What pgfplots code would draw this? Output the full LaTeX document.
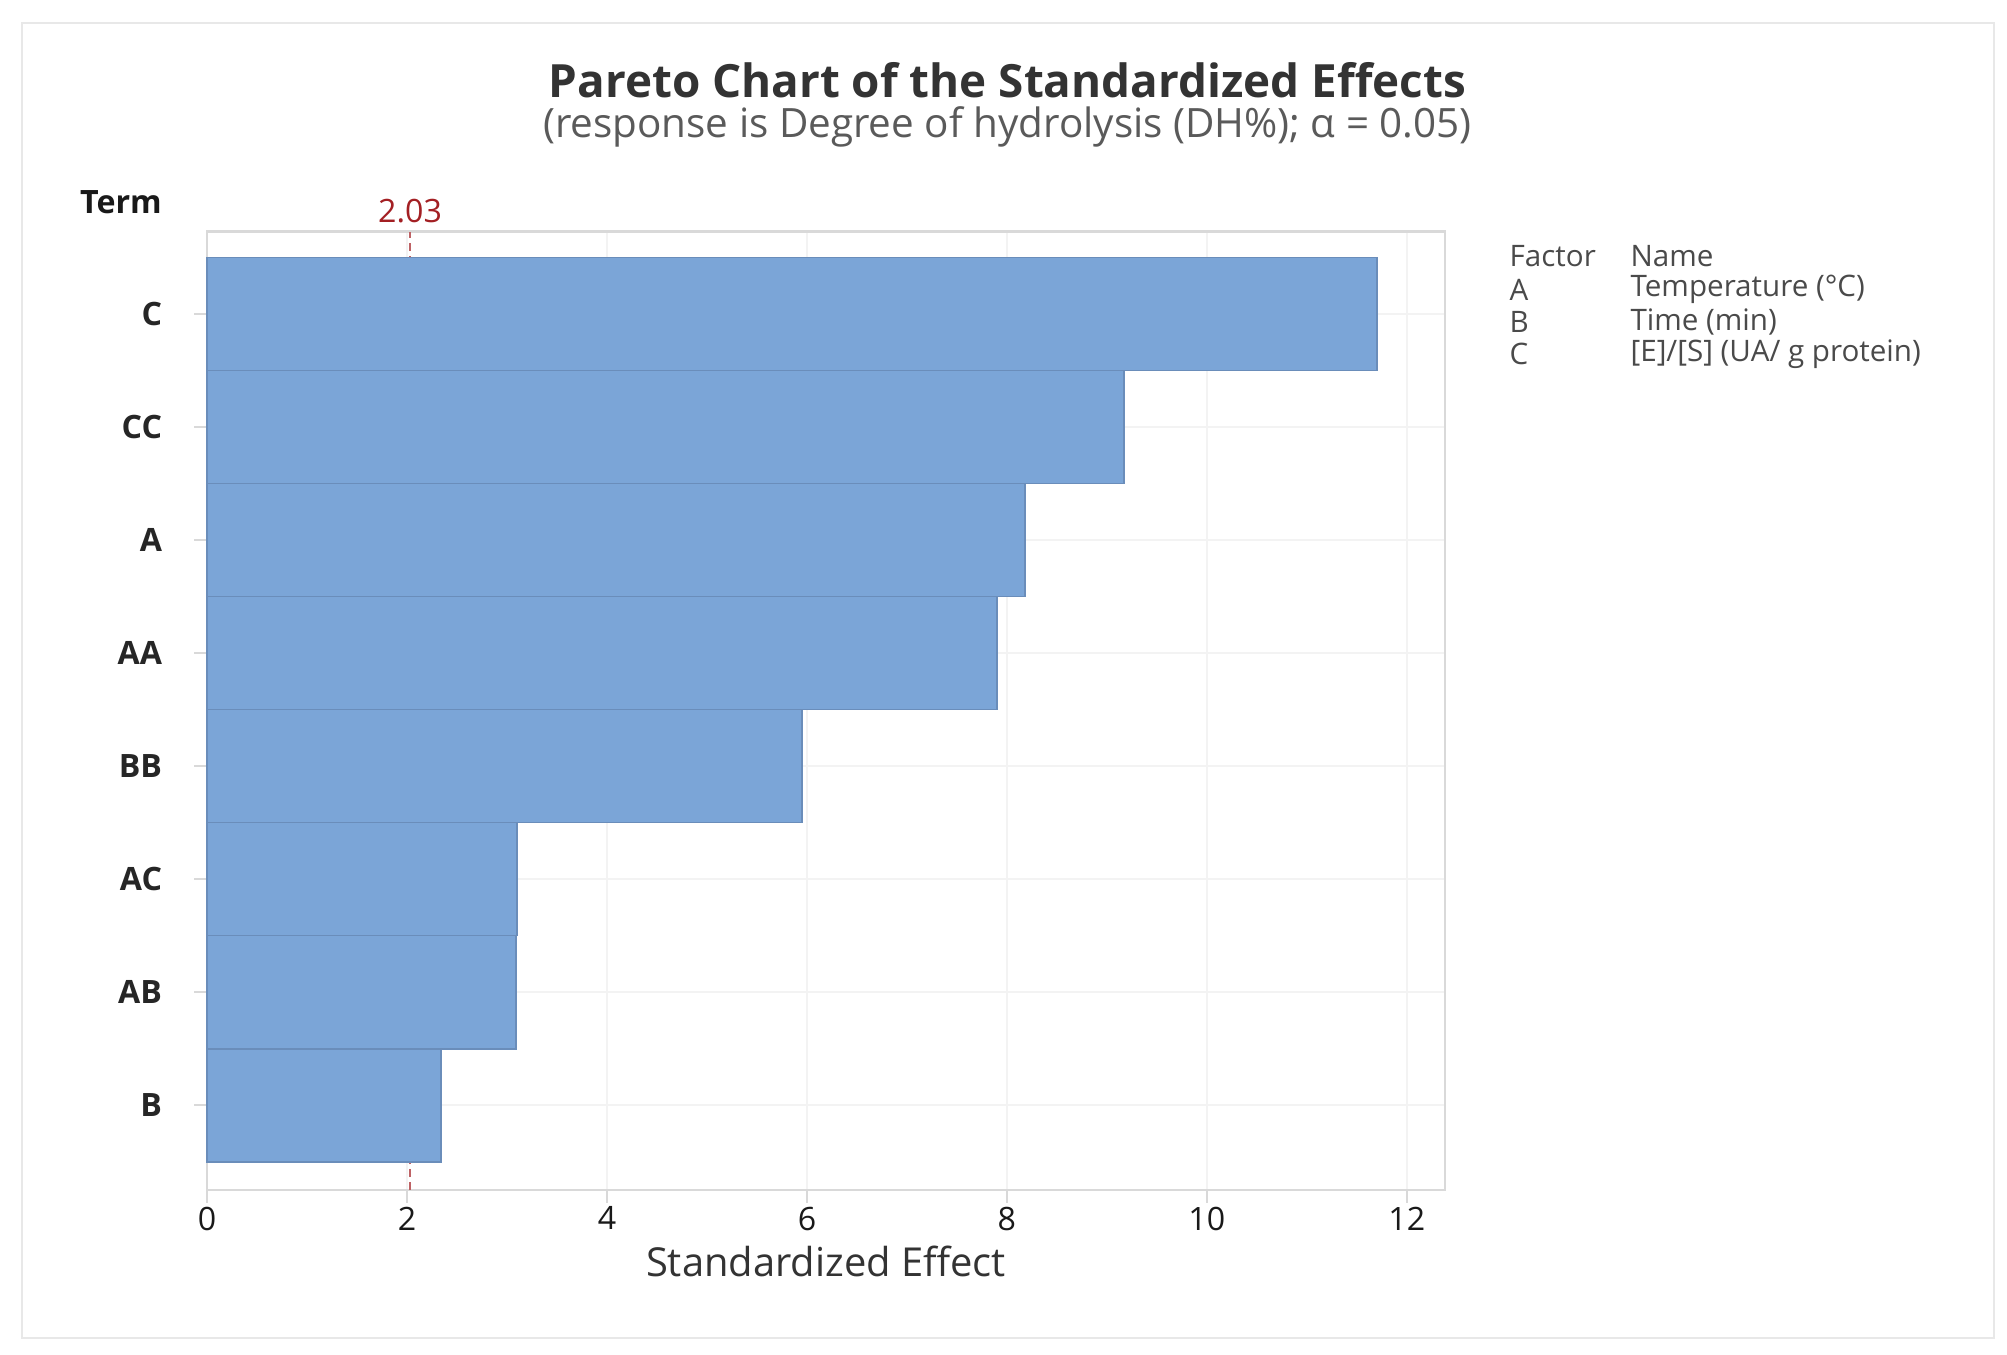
\documentclass[border=0pt]{standalone}
\usepackage{fontspec}
\setmainfont{Open Sans}
\usepackage{pgfplots}
\pgfplotsset{compat=1.18}

\definecolor{barfill}{HTML}{7BA5D7}
\definecolor{baredge}{HTML}{6A8DBA}
\definecolor{frame}{HTML}{D9D9D9}
\definecolor{gridc}{HTML}{F3F3F3}
\definecolor{refred}{HTML}{A31F23}
\definecolor{titlec}{HTML}{333333}
\definecolor{subc}{HTML}{5A5A5A}
\definecolor{legc}{HTML}{4A4A4A}

\begin{document}
\begin{tikzpicture}[x=1pt,y=1pt]
  % page and outer border
  \fill[white] (0,0) rectangle (780,526.5);
  \draw[frame!60, line width=0.8pt] (8.5,6.5) rectangle (775,517.5);

  % titles
  \node[font=\fontsize{17.8}{20}\selectfont\bfseries, text=titlec] at (391.5,495.5) {Pareto Chart of the Standardized Effects};
  \node[font=\fontsize{15.7}{17}\selectfont, text=subc] at (391.5,477) {(response is Degree of hydrolysis (DH\%); α = 0.05)};
  \node[font=\fontsize{12.5}{14}\selectfont\bfseries, text=black!90] at (47,448) {Term};

  \begin{axis}[
      at={(80.5pt,64pt)}, anchor=south west,
      scale only axis,
      width=481pt, height=372.5pt,
      xmin=0, xmax=12.38,
      ymin=0.25, ymax=8.73,
      xtick={0,2,...,12},
      ytick={1,...,8},
      yticklabels={B,AB,AC,BB,AA,A,CC,C},
      xtick pos=bottom, ytick pos=left,
      tick align=outside,
      major tick length=5pt,
      tick style={frame, line width=0.8pt},
      axis line style={frame, line width=1pt},
      grid=major,
      major grid style={gridc, line width=0.6pt},
      /pgf/number format/assume math mode=true,
      xticklabel style={font=\fontsize{12.5}{14}\selectfont, text=black!90, yshift=2pt},
      yticklabel style={font=\fontsize{12.5}{14}\selectfont\bfseries, text=black!85, xshift=-9pt},
      xlabel={Standardized Effect},
      xlabel style={font=\fontsize{15.5}{17}\selectfont, text=titlec, yshift=1pt},
      clip=false,
    ]
    % reference line (behind bars)
    \addplot[refred!70, densely dashed, line width=0.5pt] coordinates {(2.03,0.25) (2.03,8.73)};
    \node[font=\fontsize{12.5}{14}\selectfont, text=refred, anchor=south] at (axis cs:2.03,8.73) {2.03};

    \addplot[xbar, bar width=1, fill=barfill, draw=baredge, line width=0.6pt] coordinates {
      (11.70,8)
      (9.17,7)
      (8.18,6)
      (7.90,5)
      (5.95,4)
      (3.10,3)
      (3.09,2)
      (2.34,1)
    };
  \end{axis}

  % factor table
  \begin{scope}[every node/.style={anchor=west, font=\fontsize{11.5}{13}\selectfont, text=legc, inner sep=0pt}]
    \node at (586.5,427) {Factor};
    \node at (633.5,427) {Name};
    \node at (586.5,414) {A};
    \node at (633.5,414) {Temperature (°C)};
    \node at (586.5,401.5) {B};
    \node at (633.5,401.5) {Time (min)};
    \node at (586.5,389) {C};
    \node at (633.5,389) {[E]/[S] (UA/ g protein)};
  \end{scope}
\end{tikzpicture}
\end{document}
